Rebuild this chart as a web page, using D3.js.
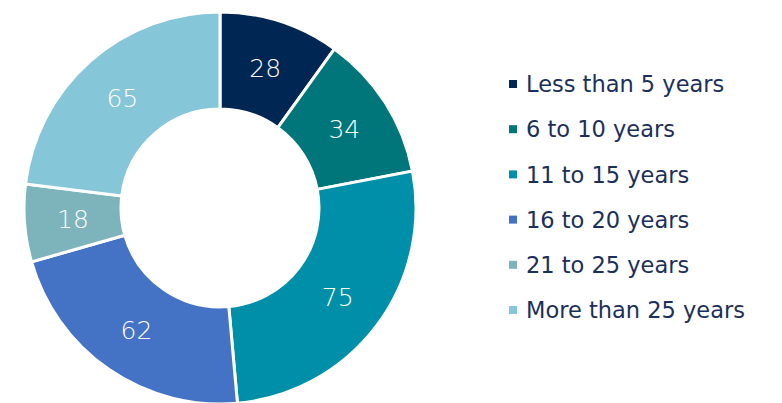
<!DOCTYPE html>
<html><head><meta charset="utf-8">
<script src="https://cdn.jsdelivr.net/npm/d3@7"></script>
<style>body{margin:0;background:#fff;}svg{display:block;}</style>
</head><body>
<svg id="c" width="782" height="403"></svg>
<script>
const categories = ["Less than 5 years","6 to 10 years","11 to 15 years","16 to 20 years","21 to 25 years","More than 25 years"];
const values = [28,34,75,62,18,65];
const colors = ["#002654","#00767a","#008fa9","#4472c4","#7db4bc","#86c6d9"];

const svg = d3.select("#c");
const cx = 220, cy = 208, R = 196, r = 99;
const pie = d3.pie().sort(null).value(d => d)(values);
const arc = d3.arc().innerRadius(r).outerRadius(R);
const labelArc = d3.arc().innerRadius((r+R)/2).outerRadius((r+R)/2);
const g = svg.append("g").attr("transform", `translate(${cx},${cy})`);
g.selectAll("path").data(pie).enter().append("path")
  .attr("d", arc).attr("fill", (d,i) => colors[i])
  .attr("stroke", "#fff").attr("stroke-width", 3);
g.selectAll("text").data(pie).enter().append("text")
  .attr("transform", d => `translate(${labelArc.centroid(d)})`)
  .attr("text-anchor","middle").attr("dy","0.36em")
  .attr("fill","#fff").attr("font-family","'DejaVu Sans', sans-serif")
  .attr("font-size",25).attr("font-weight",300)
  .text(d => d.data);

const leg = svg.append("g");
const y0 = 84, dy = 45.2;
categories.forEach((c,i) => {
  const y = y0 + i*dy;
  leg.append("rect").attr("x",509).attr("y",y-4).attr("width",8).attr("height",8).attr("fill",colors[i]);
  leg.append("text").attr("x",526).attr("y",y).attr("dy","0.36em")
    .attr("fill","#1b2f5b").attr("font-family","'DejaVu Sans', sans-serif")
    .attr("font-size",22.5).text(c);
});
</script>
</body></html>
